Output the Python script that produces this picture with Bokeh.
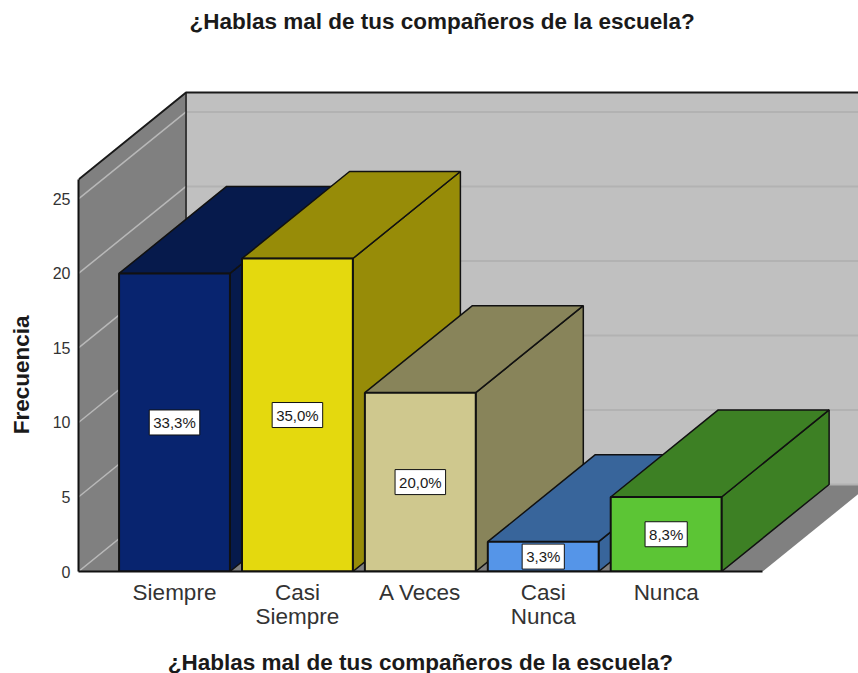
from bokeh.plotting import figure
from bokeh.models import Range1d, FixedTicker, LinearAxis
from bokeh.core.properties import value
from bokeh.embed import file_html
from bokeh.resources import INLINE

TITLE = "¿Hablas mal de tus compañeros de la escuela?"
YLABEL = "Frecuencia"
categories = ["Siempre", "Casi\nSiempre", "A Veces", "Casi\nNunca", "Nunca"]
counts = [20, 21, 12, 2, 5]
percent_labels = ["33,3%", "35,0%", "20,0%", "3,3%", "8,3%"]
front_colors = ["#08246f", "#e4d90e", "#cfc88e", "#5595e8", "#5cc535"]
shade_colors = ["#061a4c", "#978c08", "#88845a", "#38659b", "#3d8024"]
y_ticks = [0, 5, 10, 15, 20, 25]

FONT = "Liberation Sans"
# oblique projection expressed in axis units
DX, DY = 0.875, 5.84
BAR_W = 0.902
X_LO, X_HI = 0.2189, 6.565
X_FLOOR_END = 5.785
Y_TOP = 26.3
X_TITLE_AT = 3
Y_TITLE_AT = 13.2

p = figure(width=858, height=677, output_backend="svg", toolbar_location=None,
           x_range=Range1d(X_LO, X_HI), y_range=Range1d(0, 36.1),
           min_border_left=78, min_border_right=0, min_border_top=33, min_border_bottom=106,
           outline_line_color=None, background_fill_color="white")
p.grid.visible = False

p.title.text = TITLE
p.title.text_font = FONT
p.title.text_font_size = "22.5px"
p.title.text_color = "#1a1a1a"
p.title.align = "left"
p.title.offset = 111
p.title.standoff = 0

# walls and floor
p.patch([X_LO + DX, X_HI + 1, X_HI + 1, X_LO + DX], [DY, DY, Y_TOP + DY, Y_TOP + DY],
        fill_color="#c0c0c0", line_color=None)
p.patch([X_LO, X_LO + DX, X_LO + DX, X_LO], [0, DY, Y_TOP + DY, Y_TOP],
        fill_color="#808080", line_color=None)
p.patch([X_LO, X_FLOOR_END, X_FLOOR_END + DX, X_LO + DX], [0, 0, DY, DY],
        fill_color="#808080", line_color=None)

# grid lines on both walls
p.multi_line([[X_LO + DX, X_HI + 1] for t in y_ticks], [[t + DY, t + DY] for t in y_ticks],
             line_color="#b2b2b2", line_width=2)
p.multi_line([[X_LO, X_LO + DX] for t in y_ticks], [[t, t + DY] for t in y_ticks],
             line_color="#b8b8b8", line_width=1.5)

# wall edges
p.line([X_LO, X_LO + DX, X_HI + 1], [Y_TOP, Y_TOP + DY, Y_TOP + DY], line_color="#1a1a1a", line_width=2)
p.line([X_LO + DX, X_LO + DX], [DY, Y_TOP + DY], line_color="#1a1a1a", line_width=1.5)

# bars: side, top, front for each category, left to right
for i, (v, fc, sc) in enumerate(zip(counts, front_colors, shade_colors), start=1):
    l, r = i - BAR_W / 2, i + BAR_W / 2
    p.patch([r, r + DX, r + DX, r], [0, DY, v + DY, v], fill_color=sc, line_color="#111111", line_width=1.5)
    p.patch([l, r, r + DX, l + DX], [v, v, v + DY, v + DY], fill_color=sc, line_color="#111111", line_width=1.5)
    p.patch([l, r, r, l], [0, 0, v, v], fill_color=fc, line_color="#111111", line_width=2)

# percentage labels, centred on each bar's front face
p.text(x=list(range(1, 6)), y=[v / 2 for v in counts], text=percent_labels,
       text_align="center", text_baseline="middle", text_font=value(FONT),
       text_font_size="15px", text_color="#1a1a1a",
       background_fill_color="white", border_line_color="#111111", border_line_width=1,
       padding=4)

xa = p.xaxis[0]
xa.ticker = FixedTicker(ticks=[1, 2, 3, 4, 5])
xa.major_label_overrides = {i + 1: c for i, c in enumerate(categories)}
xa.bounds = (X_LO, X_FLOOR_END)
xa.axis_line_color = "#111111"
xa.axis_line_width = 2
xa.major_tick_line_color = None
xa.major_tick_out = 0
xa.major_tick_in = 0
xa.minor_tick_line_color = None
xa.major_label_text_font = FONT
xa.major_label_text_font_size = "22.5px"
xa.major_label_text_line_height = 0.97
xa.major_label_text_color = "#333333"
xa.major_label_standoff = 8

ya = p.yaxis[0]
ya.ticker = FixedTicker(ticks=y_ticks)
ya.bounds = (0, Y_TOP)
ya.axis_line_color = "#111111"
ya.axis_line_width = 2
ya.major_tick_line_color = None
ya.major_tick_out = 0
ya.major_tick_in = 0
ya.minor_tick_line_color = None
ya.major_label_text_font = FONT
ya.major_label_text_font_size = "16px"
ya.major_label_text_color = "#333333"
ya.major_label_standoff = 8


def title_axis(tick, text, standoff):
    """An outer axis with one labelled tick: places an axis title off the frame's centre."""
    axis = LinearAxis(ticker=FixedTicker(ticks=[tick]), major_label_overrides={tick: text},
                      axis_line_color=None, major_tick_line_color=None, minor_tick_line_color=None,
                      major_tick_out=0, major_tick_in=0, major_label_standoff=standoff,
                      major_label_text_font=FONT, major_label_text_font_size="22.5px",
                      major_label_text_font_style="bold", major_label_text_color="#1a1a1a",
                      major_label_text_line_height=0.85)
    return axis


p.add_layout(title_axis(X_TITLE_AT, TITLE, 18), "below")
y_title = title_axis(Y_TITLE_AT, YLABEL, 15)
y_title.major_label_orientation = "vertical"
p.add_layout(y_title, "left")

open("out.html", "w").write(file_html(p, INLINE))
